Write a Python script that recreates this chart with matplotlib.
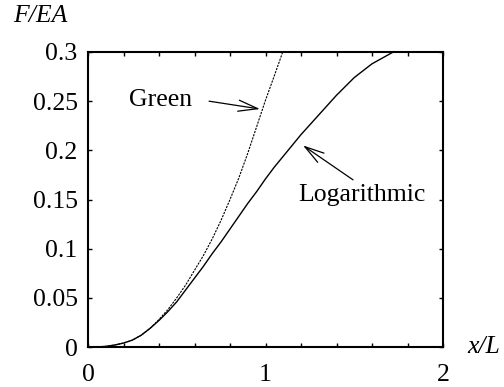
import matplotlib
matplotlib.use("Agg")
import matplotlib.pyplot as plt

plt.rcParams['font.family'] = ['Liberation Serif', 'DejaVu Serif']

# curve values
x_green = [0, 0.05, 0.1, 0.15, 0.2, 0.25, 0.3, 0.35, 0.4, 0.45, 0.5, 0.55, 0.6, 0.65,
           0.7, 0.75, 0.8, 0.85, 0.9, 0.95, 1.0, 1.05, 1.097]
f_green = [0, 0.0001, 0.0006, 0.002, 0.004, 0.007, 0.012, 0.019, 0.028, 0.038, 0.050,
           0.063, 0.078, 0.093, 0.110, 0.129, 0.150, 0.172, 0.197, 0.224, 0.251, 0.276,
           0.300]

x_log = [0, 0.05, 0.1, 0.15, 0.2, 0.25, 0.3, 0.35, 0.4, 0.45, 0.5, 0.55, 0.6, 0.65, 0.7,
         0.75, 0.8, 0.85, 0.9, 0.95, 1.0, 1.05, 1.1, 1.15, 1.2, 1.25, 1.3, 1.35, 1.4,
         1.45, 1.5, 1.55, 1.6, 1.65, 1.7, 1.72]
f_log = [0, 0.0001, 0.0006, 0.002, 0.004, 0.007, 0.012, 0.019, 0.027, 0.036, 0.046,
         0.058, 0.070, 0.082, 0.095, 0.107, 0.120, 0.133, 0.146, 0.158, 0.171, 0.183,
         0.194, 0.205, 0.216, 0.226, 0.236, 0.246, 0.256, 0.265, 0.274, 0.281, 0.288,
         0.293, 0.298, 0.300]

x_ticks = [0, 0.2, 0.4, 0.6, 0.8, 1.0, 1.2, 1.4, 1.6, 1.8, 2.0]
x_ticklabels = ['0', '', '', '', '', '1', '', '', '', '', '2']
y_ticks = [0, 0.05, 0.1, 0.15, 0.2, 0.25, 0.3]
y_ticklabels = ['0', '0.05', '0.1', '0.15', '0.2', '0.25', '0.3']

fs = 18.5

fig = plt.figure(figsize=(5.04, 3.87), dpi=100)
ax = fig.add_axes([88 / 504, 40 / 387, 355 / 504, 295 / 387])

ax.plot(x_green, f_green, color='black', lw=0.8, dashes=(2, 1))
ax.plot(x_log, f_log, color='black', lw=1.0)

ax.set_xlim(0, 2)
ax.set_ylim(0, 0.3)
ax.set_xticks(x_ticks)
ax.set_xticklabels(x_ticklabels)
ax.set_yticks(y_ticks)
ax.set_yticklabels(y_ticklabels)
ax.tick_params(direction='in', top=True, right=True, length=3, width=1,
               labelsize=fs)
ax.tick_params(axis='x', pad=12)
ax.tick_params(axis='y', pad=7.5)
for sp in ax.spines.values():
    sp.set_linewidth(1.5)

arrow = dict(arrowstyle='->,head_length=0.7,head_width=0.2', color='black', lw=0.9,
             mutation_scale=20, shrinkA=0, shrinkB=0)
ax.annotate('', xy=(0.969, 0.242), xytext=(0.682, 0.250), arrowprops=arrow)
ax.text(0.41, 0.251, 'Green', fontsize=fs, ha='center', va='center')
ax.annotate('', xy=(1.211, 0.205), xytext=(1.493, 0.170), arrowprops=arrow)
ax.text(1.544, 0.155, 'Logarithmic', fontsize=fs, ha='center', va='center')

fig.text(13 / 504, 1 - 16 / 387, 'F/EA', fontsize=fs, style='italic',
         ha='left', va='center')
fig.text(467 / 504, 40 / 387, 'x/L', fontsize=fs, style='italic',
         ha='left', va='center')

fig.savefig('out.png', dpi=100)
